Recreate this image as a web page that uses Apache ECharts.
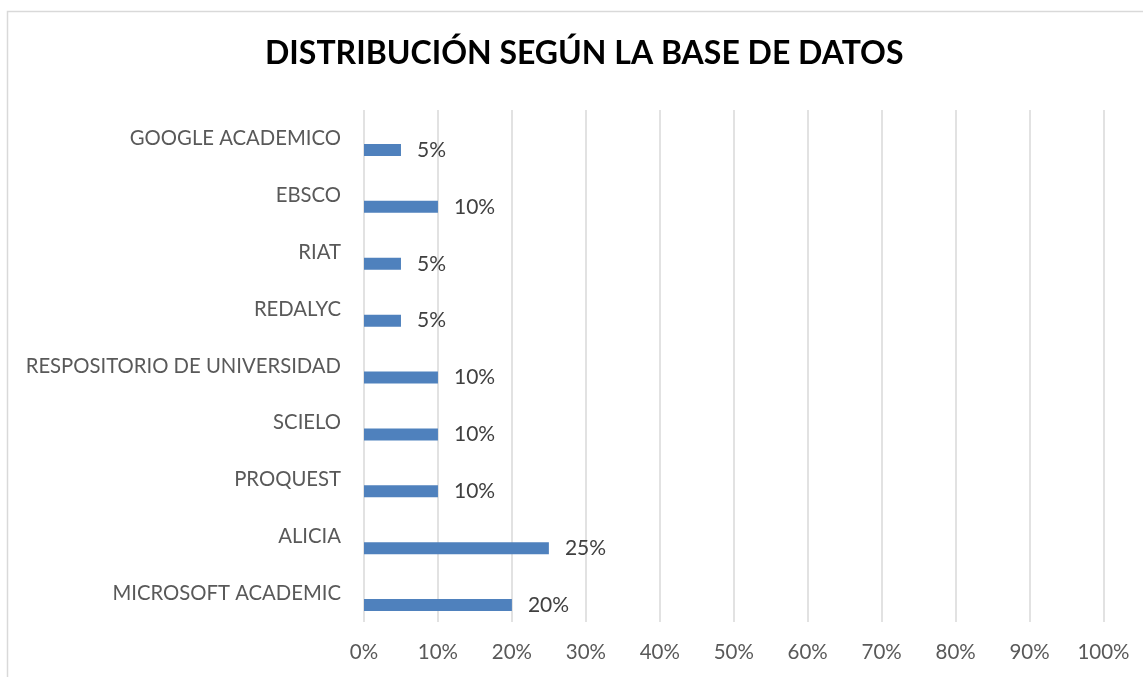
<!DOCTYPE html>
<html>
<head>
<meta charset="utf-8">
<script src="https://cdn.jsdelivr.net/npm/echarts@6/dist/echarts.min.js"></script>
<style>html,body{margin:0;padding:0;background:#fff}#c{width:1143px;height:677px}</style>
</head>
<body>
<div id="c"></div>
<script>
const categories = ['MICROSOFT ACADEMIC','ALICIA','PROQUEST','SCIELO','RESPOSITORIO DE UNIVERSIDAD','REDALYC','RIAT','EBSCO','GOOGLE ACADEMICO'];
const values = [20, 25, 10, 10, 10, 5, 5, 10, 5];
const placeholder = categories.map(() => '-');
const tickValues = [0,10,20,30,40,50,60,70,80,90,100];

const FONT = 'Lato';
const chart = echarts.init(document.getElementById('c'));
chart.setOption({
  animation: false,
  backgroundColor: '#fff',
  title: {
    text: 'DISTRIBUCIÓN SEGÚN LA BASE DE DATOS',
    left: 265,
    top: 38,
    padding: 0,
    textStyle: {fontFamily: FONT, fontWeight: 'bold', fontSize: 32, color: '#000'}
  },
  graphic: [{
    type: 'rect', silent: true,
    shape: {x: 7.5, y: 11.5, width: 1300, height: 800},
    style: {fill: 'none', stroke: '#d9d9d9', lineWidth: 1.5}
  }],
  grid: {left: 364, right: 39.5, top: 110, bottom: 55, containLabel: false},
  xAxis: {
    type: 'value', min: 0, max: 100, interval: 10,
    axisLine: {show: false}, axisTick: {show: false},
    splitLine: {show: true, lineStyle: {color: '#d9d9d9', width: 1.5}},
    axisLabel: {
      margin: 20, fontFamily: FONT, fontSize: 20.5, color: '#595959',
      formatter: v => tickValues.includes(v) ? v + '%' : ''
    }
  },
  yAxis: {
    type: 'category', data: categories,
    axisLine: {show: false}, axisTick: {show: false},
    axisLabel: {margin: 23, fontFamily: FONT, fontSize: 20.3, color: '#595959'}
  },
  series: [
    {type: 'bar', data: placeholder, barWidth: 12, barGap: '92%', silent: true},
    {
      type: 'bar', data: values, barWidth: 12, barGap: '92%',
      itemStyle: {color: '#4f81bd'},
      label: {
        show: true, position: 'right', distance: 16,
        fontFamily: FONT, fontSize: 21, color: '#404040',
        formatter: p => p.value + '%'
      }
    }
  ]
});
</script>
</body>
</html>
